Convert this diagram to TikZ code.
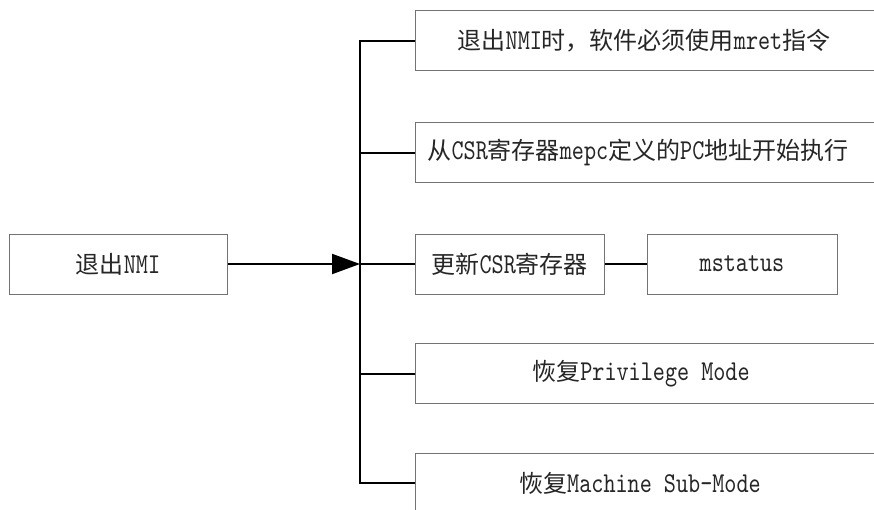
\documentclass[tikz,border=0pt]{standalone}
\usepackage{fontspec}
\setmonofont{lmmono10-regular.otf}[Scale=1.2,FakeStretch=0.8]
\newfontfamily\cjk{Noto Sans CJK SC}
\usetikzlibrary{arrows.meta}
\newcommand\zh[1]{{\cjk #1}}
\begin{document}
\begin{tikzpicture}[x=0.75pt,y=-0.75pt,
  box/.style={draw=black!55,line width=0.75pt,rectangle,inner sep=0pt,minimum height=45pt},
  lbl/.style={font=\fontsize{18pt}{20pt}\selectfont\ttfamily,text=black!85,inner sep=0pt},
  conn/.style={line width=1.5pt,black}]
\useasboundingbox (0,0) rectangle (874,510);
\clip (0,0) rectangle (874,510);
\fill[white] (0,0) rectangle (874,510);
% boxes
\node[box,lbl,minimum width=163.5pt] (src) at (118,264) {\zh{退出}NMI};
\node[box,minimum width=352.5pt] (b1) at (650,40.7) {};
\node[box,minimum width=352.5pt] (b2) at (650,152.5) {};
\node[box,lbl,minimum width=142pt] (b3) at (509.7,264) {\zh{更新}CSR\zh{寄存器}};
\node[box,lbl,minimum width=142.5pt] (m) at (742,264) {mstatus};
\node[box,minimum width=352.5pt] (b4) at (650,373.8) {};
\node[box,minimum width=352.5pt] (b5) at (650,483) {};
% labels of the wide boxes
\node[lbl] (t1) at (644,40.7) {\zh{退出}NMI\zh{时，软件必须使用}mret\zh{指令}};
\node[lbl] (t2) at (638,152.5) {\zh{从}CSR\zh{寄存器}mepc\zh{定义的}PC\zh{地址开始执行}};
\node[lbl] (t4) at (641,373.8) {\zh{恢复}Privilege Mode};
\node[lbl] (t5) at (640,483) {\zh{恢复}Machine Sub-Mode};
% connectors
\coordinate (J) at (360,264);
\draw[conn] (b1.west) -- (b1.west -| J) -- (b5.west -| J) -- (b5.west);
\draw[conn] (b2.west) -- (b2.west -| J);
\draw[conn] (J) -- (b3.west);
\draw[conn] (b4.west) -- (b4.west -| J);
\draw[conn] (b3.east) -- (m.west);
\draw[conn,-{Triangle[length=21pt,width=15pt]}] (src.east) -- (J);
\end{tikzpicture}
\end{document}
